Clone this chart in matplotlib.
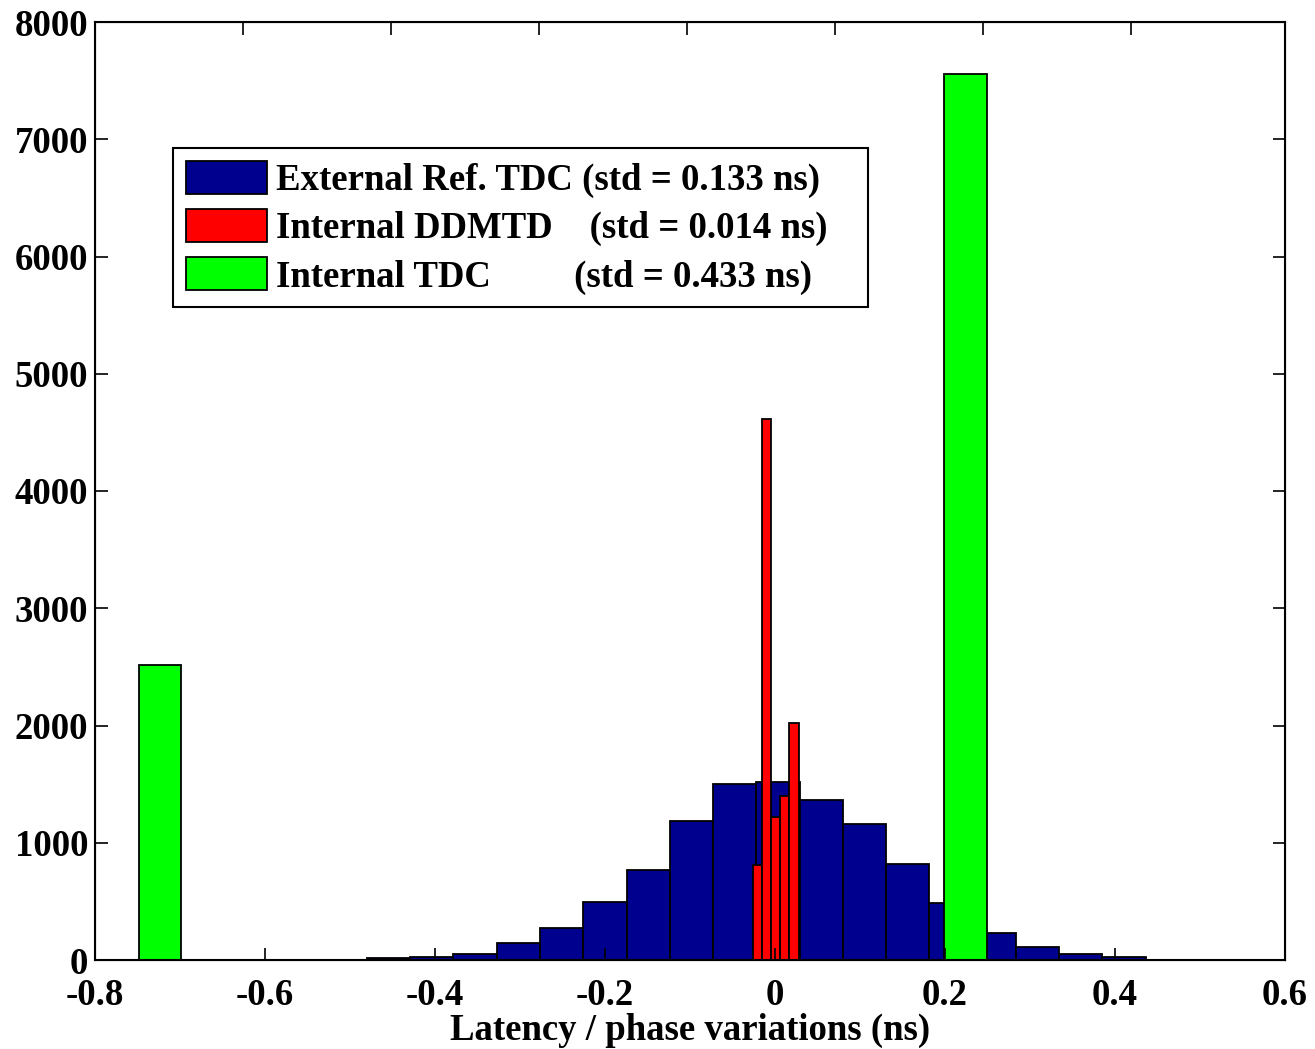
import matplotlib.pyplot as plt

plt.rcParams['font.family'] = ['Liberation Serif', 'DejaVu Serif']
plt.rcParams['font.weight'] = 'bold'

# External Ref. TDC histogram (bin centers in ns, counts)
ext_centers = [-0.4546, -0.4037, -0.3528, -0.3019, -0.2510, -0.2001, -0.1492, -0.0983, -0.0474,
               0.0035, 0.0544, 0.1053, 0.1562, 0.2071, 0.2580, 0.3089, 0.3598, 0.4107]
ext_counts = [20, 25, 50, 145, 275, 495, 770, 1185, 1500, 1520, 1365, 1160, 820, 490, 230, 110, 50, 25]
ext_width = 0.0509

# Internal DDMTD histogram
ddmtd_centers = [-0.0206, -0.0099, 0.0009, 0.0116, 0.0223]
ddmtd_counts = [810, 4610, 1220, 1400, 2020]
ddmtd_width = 0.0107

# Internal TDC histogram
tdc_centers = [-0.7235, 0.224]
tdc_counts = [2520, 7560]
tdc_width = 0.05

labels = ['External Ref. TDC (std = 0.133 ns)',
          'Internal DDMTD    (std = 0.014 ns)   ',
          'Internal TDC         (std = 0.433 ns)']

fig = plt.figure(figsize=(13.15, 10.49), dpi=100)
ax = fig.add_axes([95 / 1315, 89 / 1049, 1190 / 1315, 938 / 1049])

ax.bar(ext_centers, ext_counts, width=ext_width, color='#00008F', edgecolor='black',
       linewidth=1.3, label=labels[0])
ax.bar(ddmtd_centers, ddmtd_counts, width=ddmtd_width, color='#FF0000', edgecolor='black',
       linewidth=1.3, label=labels[1])
ax.bar(tdc_centers, tdc_counts, width=tdc_width, color='#00FF00', edgecolor='black',
       linewidth=1.3, label=labels[2])

ax.set_xlim(-0.8, 0.6)
ax.set_ylim(0, 8000)
ax.set_xticks([-0.8, -0.6, -0.4, -0.2, 0, 0.2, 0.4, 0.6])
ax.set_xticklabels(['-0.8', '-0.6', '-0.4', '-0.2', '0', '0.2', '0.4', '0.6'])
ax.set_yticks(range(0, 8001, 1000))
ax.tick_params(axis='both', direction='in', length=9, width=1.2, labelsize=26.5)
ax.tick_params(axis='x', pad=13)
ax.tick_params(axis='y', right=True, pad=5)
for sp in ax.spines.values():
    sp.set_linewidth(1.5)

# top axis ticks (unlabelled)
top = ax.twiny()
top.set_xlim(0, 8.04)
top.set_xticks(range(1, 8))
top.set_xticklabels([])
top.tick_params(axis='x', direction='in', length=9, width=1.2)

ax.set_xlabel('Latency / phase variations (ns)', fontsize=26.5, fontweight='bold', labelpad=0)

leg = ax.legend(loc='upper left', bbox_to_anchor=(0.0655, 0.8657), borderaxespad=0,
                fontsize=26.5, fancybox=False, edgecolor='black', framealpha=1,
                handlelength=2.2, handleheight=1.0, handletextpad=0.25,
                labelspacing=0.3, borderpad=0.35)
leg.get_frame().set_linewidth(1.5)

fig.savefig('out.png', dpi=100)
